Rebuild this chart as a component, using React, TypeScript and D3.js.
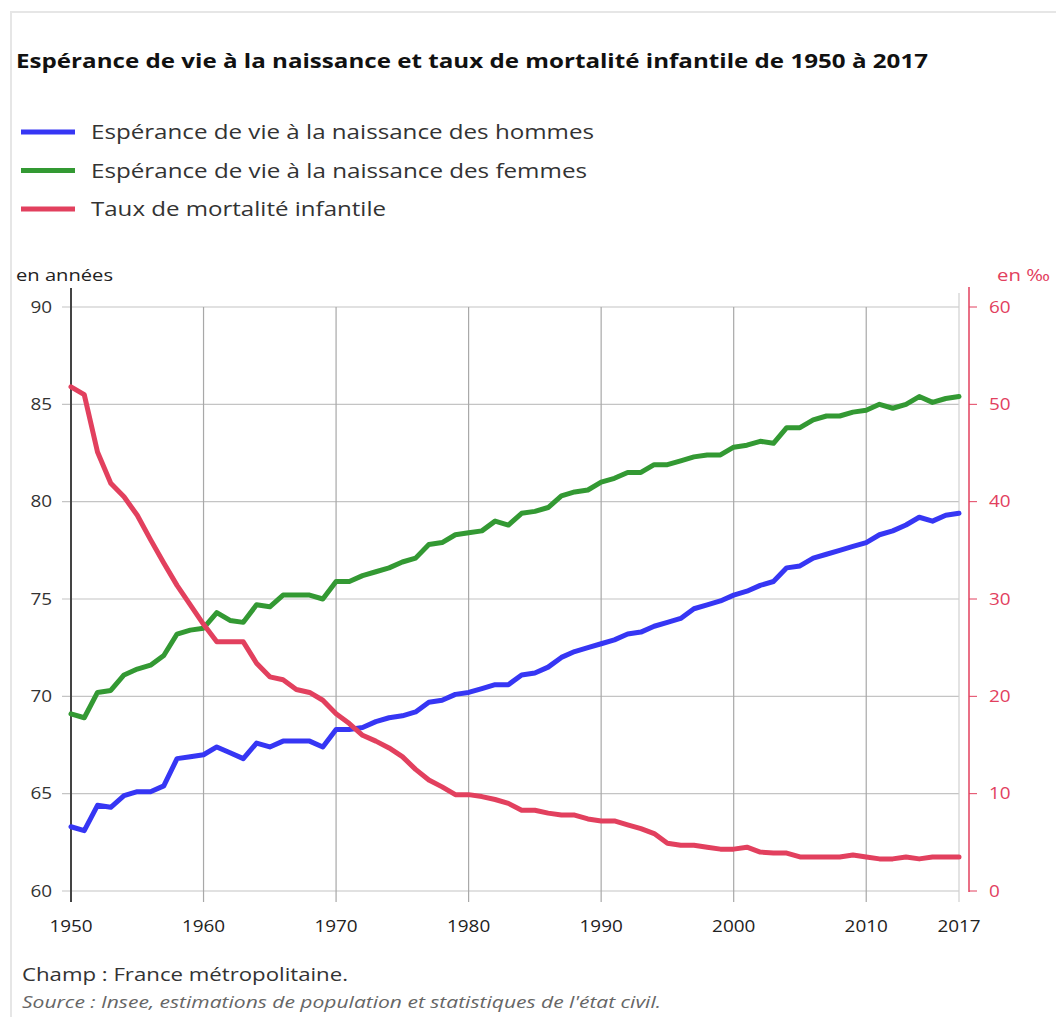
import React from 'react';
import * as d3 from 'd3';

// data
const years = d3.range(1950, 2018);

const hommes = [
  63.3, 63.1, 64.4, 64.3, 64.9, 65.1, 65.1, 65.4, 66.8, 66.9,
  67.0, 67.4, 67.1, 66.8, 67.6, 67.4, 67.7, 67.7, 67.7, 67.4,
  68.3, 68.3, 68.4, 68.7, 68.9, 69.0, 69.2, 69.7, 69.8, 70.1,
  70.2, 70.4, 70.6, 70.6, 71.1, 71.2, 71.5, 72.0, 72.3, 72.5,
  72.7, 72.9, 73.2, 73.3, 73.6, 73.8, 74.0, 74.5, 74.7, 74.9,
  75.2, 75.4, 75.7, 75.9, 76.6, 76.7, 77.1, 77.3, 77.5, 77.7,
  77.9, 78.3, 78.5, 78.8, 79.2, 79.0, 79.3, 79.4,
];

const femmes = [
  69.1, 68.9, 70.2, 70.3, 71.1, 71.4, 71.6, 72.1, 73.2, 73.4,
  73.5, 74.3, 73.9, 73.8, 74.7, 74.6, 75.2, 75.2, 75.2, 75.0,
  75.9, 75.9, 76.2, 76.4, 76.6, 76.9, 77.1, 77.8, 77.9, 78.3,
  78.4, 78.5, 79.0, 78.8, 79.4, 79.5, 79.7, 80.3, 80.5, 80.6,
  81.0, 81.2, 81.5, 81.5, 81.9, 81.9, 82.1, 82.3, 82.4, 82.4,
  82.8, 82.9, 83.1, 83.0, 83.8, 83.8, 84.2, 84.4, 84.4, 84.6,
  84.7, 85.0, 84.8, 85.0, 85.4, 85.1, 85.3, 85.4,
];

const mortalite = [
  51.8, 51.0, 45.1, 41.9, 40.5, 38.6, 36.1, 33.7, 31.4, 29.4,
  27.4, 25.6, 25.6, 25.6, 23.4, 22.0, 21.7, 20.7, 20.4, 19.6,
  18.2, 17.2, 16.0, 15.4, 14.7, 13.8, 12.5, 11.4, 10.7, 9.9,
  9.9, 9.7, 9.4, 9.0, 8.3, 8.3, 8.0, 7.8, 7.8, 7.4,
  7.2, 7.2, 6.8, 6.4, 5.9, 4.9, 4.7, 4.7, 4.5, 4.3,
  4.3, 4.5, 4.0, 3.9, 3.9, 3.5, 3.5, 3.5, 3.5, 3.7,
  3.5, 3.3, 3.3, 3.5, 3.3, 3.5, 3.5, 3.5,
];

const xTicks = [1950, 1960, 1970, 1980, 1990, 2000, 2010, 2017];
const leftTicks = [60, 65, 70, 75, 80, 85, 90];
const rightTicks = [0, 10, 20, 30, 40, 50, 60];

const legendLabels = [
  'Espérance de vie à la naissance des hommes',
  'Espérance de vie à la naissance des femmes',
  'Taux de mortalité infantile',
];
const legendWidths = [503, 496, 295];

const BLUE = '#3636f4';
const GREEN = '#339933';
const RED = '#e2405e';
const FONT = "'Open Sans', 'Noto Sans', sans-serif";

// the source text is drawn a bit wider than Open Sans, so stretch it
const digitW = (t: number) => String(t).length * 10.8;

const App = () => {
  const width = 1056;
  const height = 1017;
  const left = 71;
  const right = 959;
  const top = 307;
  const bottom = 891;

  const x = d3.scaleLinear().domain([1950, 2017]).range([left, right]);
  const yL = d3.scaleLinear().domain([60, 90]).range([bottom, top]);
  const yR = d3.scaleLinear().domain([0, 60]).range([bottom, top]);

  const lineL = d3.line<number>().x((_, i) => x(years[i])).y(d => yL(d));
  const lineR = d3.line<number>().x((_, i) => x(years[i])).y(d => yR(d));

  const series = [
    { path: lineL(hommes), color: BLUE },
    { path: lineL(femmes), color: GREEN },
    { path: lineR(mortalite), color: RED },
  ];

  const legendColors = [BLUE, GREEN, RED];

  return (
    <svg
      width={width}
      height={height}
      style={{ position: 'absolute', left: 0, top: 0, background: '#fff' }}
      fontFamily={FONT}
    >
      {/* frame */}
      <rect x={11} y={12} width={width} height={height} fill="none" stroke="#e6e6e6" strokeWidth={2} />

      <text x={16} y={68} fontSize={20} fontWeight="bold" fill="#111"
        textLength={912} lengthAdjust="spacingAndGlyphs">
        Espérance de vie à la naissance et taux de mortalité infantile de 1950 à 2017
      </text>

      {legendLabels.map((label, i) => (
        <g key={label} transform={`translate(0,${132 + i * 38.5})`}>
          <line x1={21} x2={75} y1={0} y2={0} stroke={legendColors[i]} strokeWidth={5} />
          <text x={91} y={7} fontSize={20} fill="#333"
            textLength={legendWidths[i]} lengthAdjust="spacingAndGlyphs">{label}</text>
        </g>
      ))}

      <text x={16} y={281} fontSize={17} fill="#222" textLength={97} lengthAdjust="spacingAndGlyphs">en années</text>
      <text x={997} y={281} fontSize={17} fill={RED} textLength={53} lengthAdjust="spacingAndGlyphs">en ‰</text>

      {/* horizontal grid */}
      {leftTicks.map(t => (
        <g key={t}>
          <line x1={62} x2={right} y1={yL(t)} y2={yL(t)} stroke="#c4c4c4" strokeWidth={1.2} />
          <text x={52} y={yL(t)} dy="0.35em" textAnchor="end" fontSize={16} fill="#333"
            textLength={digitW(t)} lengthAdjust="spacingAndGlyphs">{t}</text>
        </g>
      ))}

      {/* vertical grid */}
      {xTicks.map(t => (
        <g key={t}>
          <line
            x1={x(t)} x2={x(t)} y1={t === 2017 ? 293 : top} y2={902}
            stroke={t === 2017 ? '#d0d0d0' : '#a8a8a8'} strokeWidth={1.2}
          />
          <text x={x(t)} y={932} textAnchor="middle" fontSize={16} fill="#222"
            textLength={digitW(t)} lengthAdjust="spacingAndGlyphs">{t}</text>
        </g>
      ))}

      {/* left axis */}
      <line x1={left} x2={left} y1={288} y2={902} stroke="#444" strokeWidth={2} />

      {/* right axis */}
      <line x1={969} x2={969} y1={287} y2={bottom + 1} stroke={RED} strokeWidth={1.5} />
      {rightTicks.map(t => (
        <g key={t}>
          <line x1={969} x2={977} y1={yR(t)} y2={yR(t)} stroke={RED} strokeWidth={1} />
          <text x={989} y={yR(t)} dy="0.35em" fontSize={16} fill={RED}
            textLength={digitW(t)} lengthAdjust="spacingAndGlyphs">{t}</text>
        </g>
      ))}

      {series.map((s, i) => (
        <path
          key={i}
          d={s.path ?? ''}
          fill="none"
          stroke={s.color}
          strokeWidth={5}
          strokeLinejoin="round"
          strokeLinecap="round"
        />
      ))}

      <text x={22} y={981} fontSize={18} fill="#333" textLength={326} lengthAdjust="spacingAndGlyphs">
        Champ : France métropolitaine.
      </text>
      <text x={22} y={1008} fontSize={17} fontStyle="italic" fill="#666" textLength={639} lengthAdjust="spacingAndGlyphs">
        Source : Insee, estimations de population et statistiques de l'état civil.
      </text>
    </svg>
  );
};

export default App;
